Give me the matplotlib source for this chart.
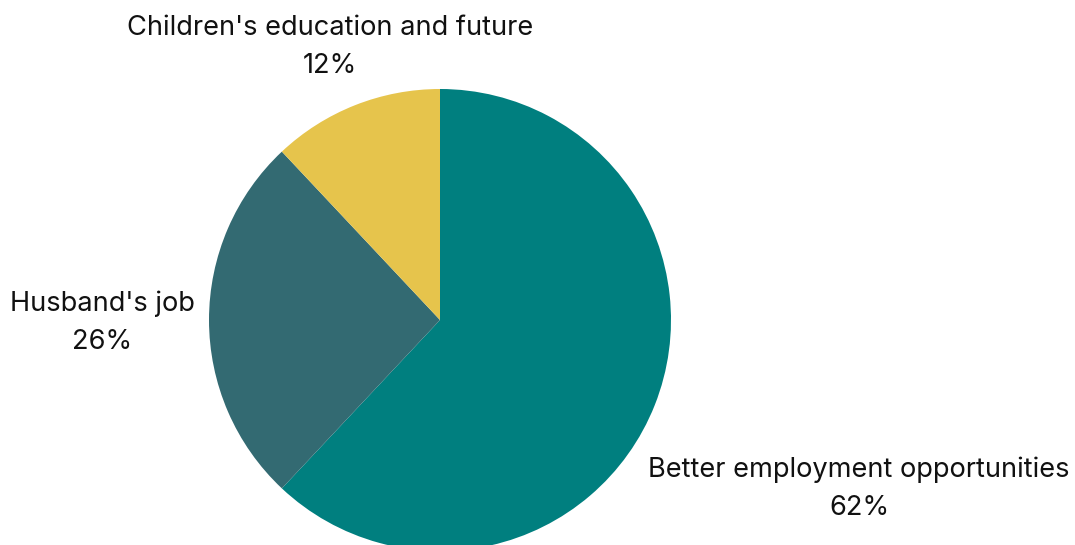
import matplotlib
matplotlib.use("Agg")
from matplotlib import pyplot as plt

plt.rcParams['font.family'] = ['Inter', 'DejaVu Sans']

# reasons for moving, share of respondents (%)
reasons = ["Better employment opportunities", "Husband's job", "Children's education and future"]
shares = [62, 26, 12]
colors = ["#007F7F", "#336A72", "#E6C44C"]

# label anchor points (pixels, from top-left)
label_pos = [(859, 489), (102, 323), (330, 47)]

W, H = 1075, 545
fig = plt.figure(figsize=(W / 100, H / 100), dpi=100)
ax = fig.add_axes([0, 0, 1, 1])

ax.pie(shares, colors=colors, startangle=90, counterclock=False,
       center=(440, H - 320), radius=231, frame=True,
       wedgeprops=dict(linewidth=0))
ax.set_xlim(0, W)
ax.set_ylim(0, H)
ax.set_aspect("equal")
ax.axis("off")

for name, pct, (x, y) in zip(reasons, shares, label_pos):
    ax.text(x, H - y, f"{name}\n{pct}%", ha="center", va="center",
            fontsize=19.6, linespacing=1.62, color="#111111")

fig.savefig("out.png", dpi=100, facecolor="white")
